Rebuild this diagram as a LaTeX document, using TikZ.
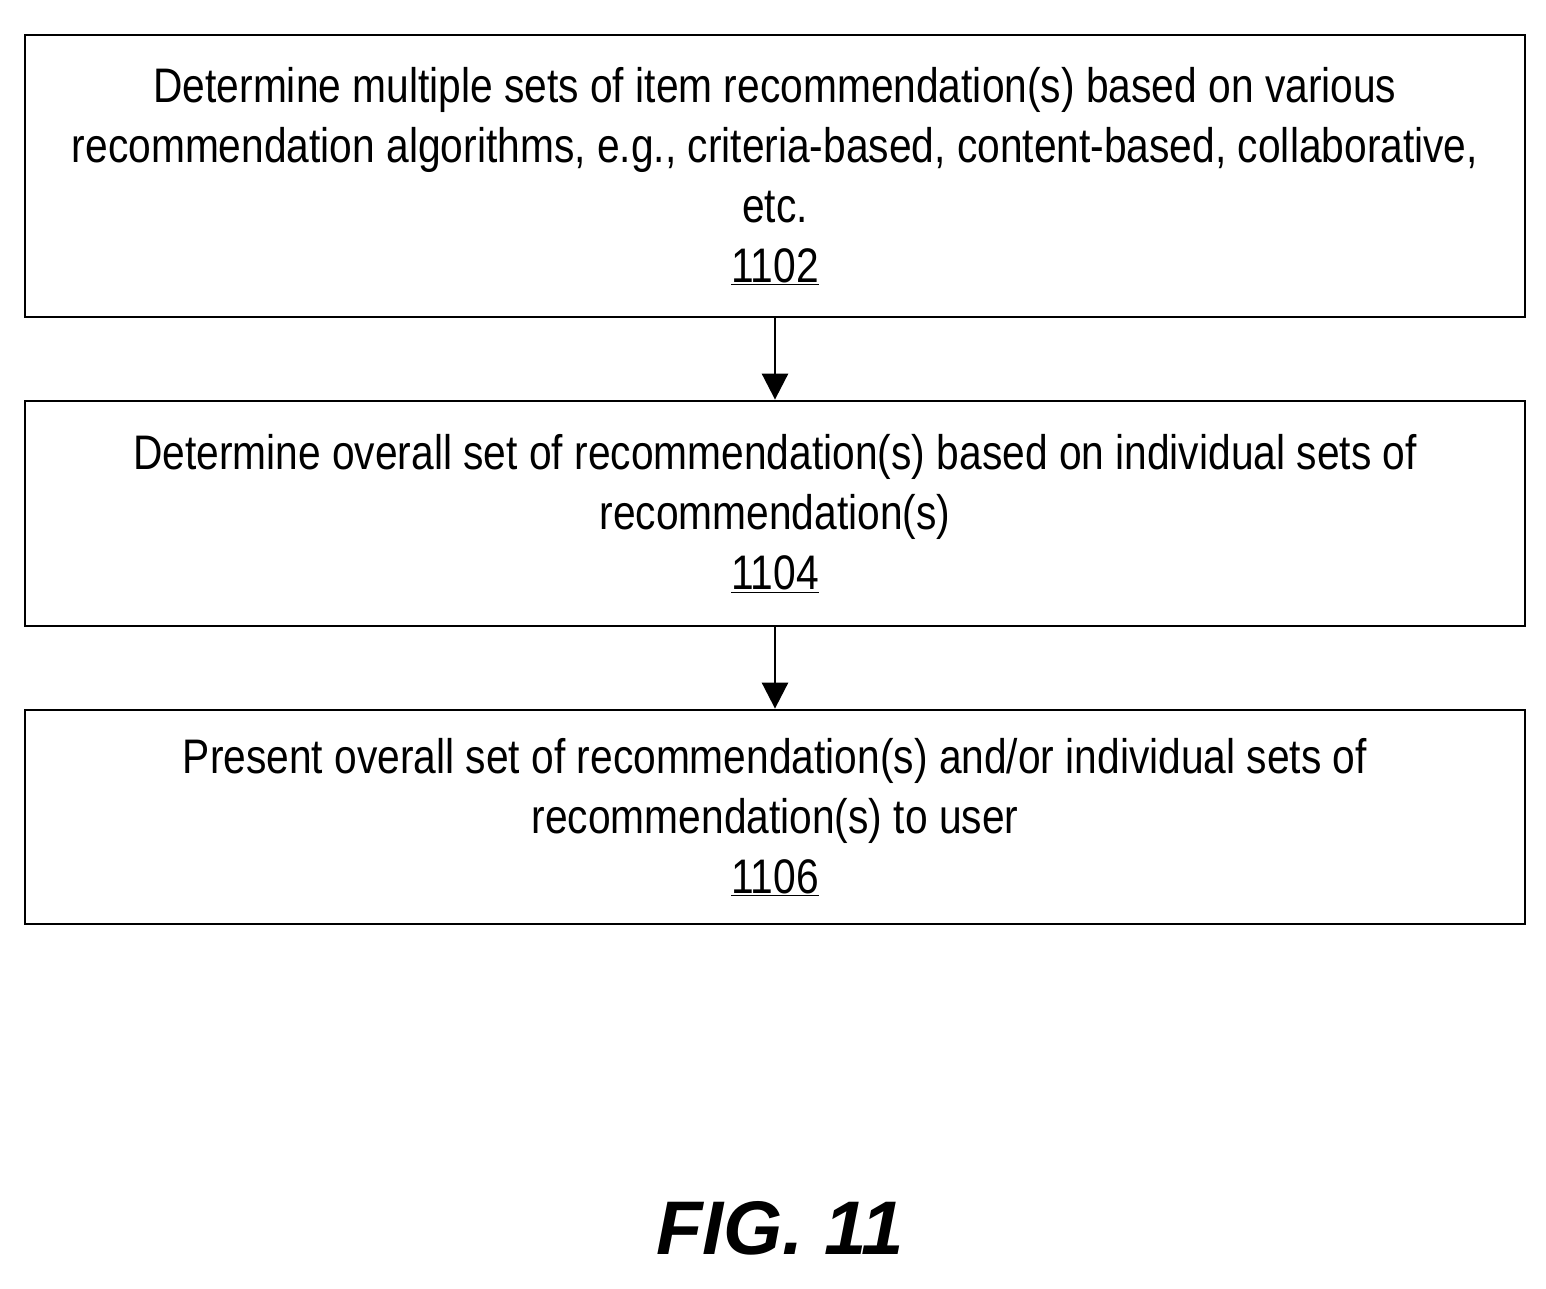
\documentclass[tikz,border=0pt]{standalone}
\usetikzlibrary{arrows.meta}
\usepackage{fontspec}
\setmainfont{Liberation Sans}[FakeStretch=0.84]
\newfontfamily\figfont{Liberation Sans}
\begin{document}
\begin{tikzpicture}[x=1pt,y=-1pt,
  box/.style={draw,line width=2.8pt,minimum width=1500pt,align=center,inner sep=0pt,
    font=\fontsize{48.5}{60}\selectfont},
  arr/.style={line width=2.8pt,-{Triangle[length=26pt,width=26pt]}}]
\useasboundingbox (0,0) rectangle (1546,1289);
\node[box,minimum height=282pt] (b1) at (775,176) {Determine multiple sets of item recommendation(s) based on various\\recommendation algorithms, e.g., criteria-based, content-based, collaborative,\\etc.\\\underline{1102}};
\node[box,minimum height=225pt] (b2) at (775,513.5) {Determine overall set of recommendation(s) based on individual sets of\\recommendation(s)\\\underline{1104}};
\node[box,minimum height=214pt] (b3) at (775,817) {Present overall set of recommendation(s) and/or individual sets of\\recommendation(s) to user\\\underline{1106}};
\draw[arr] (b1) -- (b2);
\draw[arr] (b2) -- (b3);
\node[font=\figfont\fontsize{76}{80}\selectfont\bfseries\itshape] (fig) at (780,1228) {FIG. 11};
\end{tikzpicture}
\end{document}
